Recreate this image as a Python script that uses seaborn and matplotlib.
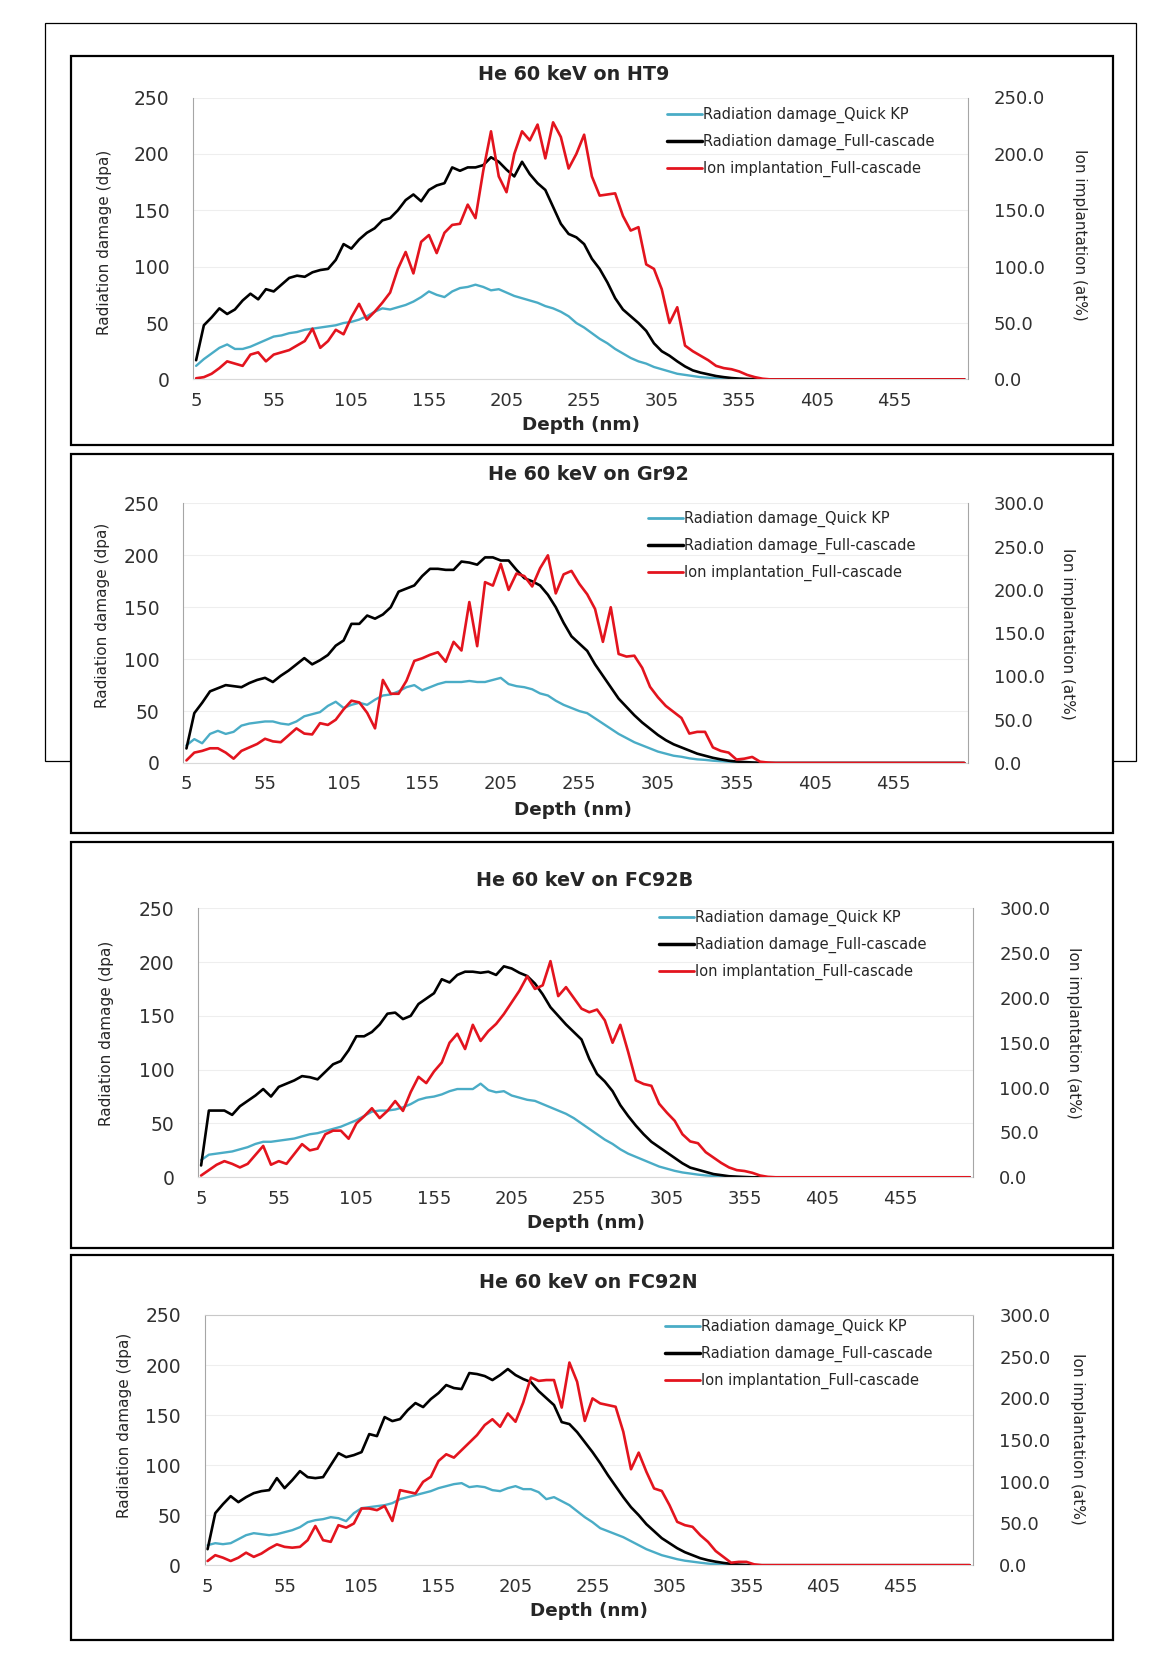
import numpy as np
import pandas as pd
import matplotlib
matplotlib.use("Agg")
import matplotlib.pyplot as plt
import seaborn as sns
from matplotlib.patches import Rectangle
from matplotlib.lines import Line2D
from matplotlib.ticker import FormatStrFormatter

sns.set_style("white")
plt.rcParams['font.family'] = ['DejaVu Sans']

# depth categories (nm), 5 .. 500 in 5 nm steps
depth = list(range(5, 505, 5))

titles = ["He 60 keV on HT9", "He 60 keV on Gr92", "He 60 keV on FC92B", "He 60 keV on FC92N"]
labels = ["Radiation damage_Quick KP", "Radiation damage_Full-cascade", "Ion implantation_Full-cascade"]
right_max = [250, 300, 300, 300]

# ---- HT9 ----
ht9_quick = [12, 18, 23, 28, 31, 27, 27, 29, 32, 35,
             38, 39, 41, 42, 44, 45, 46, 47, 48, 50,
             51, 53, 56, 60, 63, 62, 64, 66, 69, 73,
             78, 75, 73, 78, 81, 82, 84, 82, 79, 80,
             77, 74, 72, 70, 68, 65, 63, 60, 56, 50,
             46, 41, 36, 32, 27, 23, 19, 16, 14, 11,
             9, 7, 5, 4, 3, 2, 1.5, 1, 0.7, 0.5,
             0.3, 0.2, 0.1, 0, 0, 0, 0, 0, 0, 0,
             0, 0, 0, 0, 0, 0, 0, 0, 0, 0,
             0, 0, 0, 0, 0, 0, 0, 0, 0, 0]
ht9_full = [17, 48, 55, 63, 58, 62, 70, 76, 71, 80,
            78, 84, 90, 92, 91, 95, 97, 98, 106, 120,
            116, 124, 130, 134, 141, 143, 150, 159, 164, 158,
            168, 172, 174, 188, 185, 188, 188, 190, 197, 193,
            186, 180, 193, 182, 174, 168, 153, 138, 129, 126,
            120, 107, 98, 86, 72, 62, 56, 50, 43, 32,
            25, 21, 16, 11.5, 8, 6, 4.5, 3, 2, 1.2,
            0.7, 0.4, 0.2, 0, 0, 0, 0, 0, 0, 0,
            0, 0, 0, 0, 0, 0, 0, 0, 0, 0,
            0, 0, 0, 0, 0, 0, 0, 0, 0, 0]
ht9_ion = [1, 2, 5, 10, 16, 14, 12, 22, 24, 16,
           22, 24, 26, 30, 34, 45, 28, 34, 44, 40,
           55, 67, 53, 60, 68, 77, 98, 113, 94, 122,
           128, 112, 130, 137, 138, 155, 143, 185, 220, 180,
           166, 200, 220, 212, 226, 196, 228, 215, 187, 200,
           217, 180, 163, 164, 165, 145, 132, 135, 102, 98,
           80, 50, 64, 30, 25, 21, 17, 12, 10, 9,
           7, 4, 2, 0.6, 0, 0, 0, 0, 0, 0,
           0, 0, 0, 0, 0, 0, 0, 0, 0, 0,
           0, 0, 0, 0, 0, 0, 0, 0, 0, 0]

# ---- Gr92 ----
gr92_quick = [17, 23, 19, 28, 31, 28, 30, 36, 38, 39,
              40, 40, 38, 37, 40, 45, 47, 49, 55, 59,
              53, 56, 58, 56, 61, 65, 66, 69, 73, 75,
              70, 73, 76, 78, 78, 78, 79, 78, 78, 80,
              82, 76, 74, 73, 71, 67, 65, 60, 56, 53,
              50, 48, 43, 38, 33, 28, 24, 20, 17, 14,
              11, 9, 7, 6, 4.5, 3.5, 3, 2.2, 1.7, 1.3,
              0.9, 0.6, 0.3, 0, 0, 0, 0, 0, 0, 0,
              0, 0, 0, 0, 0, 0, 0, 0, 0, 0,
              0, 0, 0, 0, 0, 0, 0, 0, 0, 0]
gr92_full = [14, 48, 58, 69, 72, 75, 74, 73, 77, 80,
             82, 78, 84, 89, 95, 101, 95, 99, 104, 113,
             118, 134, 134, 142, 139, 143, 150, 165, 168, 171,
             180, 187, 187, 186, 186, 194, 193, 191, 198, 198,
             195, 195, 186, 178, 175, 171, 162, 150, 135, 122,
             115, 108, 95, 84, 73, 62, 54, 46, 39, 33,
             27, 22, 18, 15, 12, 9, 7, 5, 3.5, 2.2,
             1.4, 0.9, 0.5, 0.2, 0, 0, 0, 0, 0, 0,
             0, 0, 0, 0, 0, 0, 0, 0, 0, 0,
             0, 0, 0, 0, 0, 0, 0, 0, 0, 0]
gr92_ion = [3, 12, 14, 17, 17, 12, 5, 14, 18, 22,
            28, 25, 24, 32, 40, 34, 33, 46, 44, 50,
            62, 72, 70, 58, 40, 96, 80, 80, 95, 118,
            121, 125, 128, 117, 140, 130, 186, 135, 209, 205,
            230, 200, 219, 216, 204, 225, 240, 196, 218, 222,
            207, 195, 178, 140, 180, 126, 123, 124, 110, 88,
            76, 66, 59, 52, 34, 36, 36, 18, 14, 12,
            4, 5, 7, 1.5, 0.5, 0, 0, 0, 0, 0,
            0, 0, 0, 0, 0, 0, 0, 0, 0, 0,
            0, 0, 0, 0, 0, 0, 0, 0, 0, 0]

# ---- FC92B ----
fc92b_quick = [16, 21, 22, 23, 24, 26, 28, 31, 33, 33,
               34, 35, 36, 38, 40, 41, 43, 45, 47, 50,
               53, 57, 61, 62, 62, 63, 65, 68, 72, 74,
               75, 77, 80, 82, 82, 82, 87, 81, 79, 80,
               76, 74, 72, 71, 68, 65, 62, 59, 55, 50,
               45, 40, 35, 31, 26, 22, 19, 16, 13, 10,
               8, 6, 4.5, 3.5, 2.5, 1.7, 1.2, 0.8, 0.5, 0.3,
               0, 0, 0, 0, 0, 0, 0, 0, 0, 0,
               0, 0, 0, 0, 0, 0, 0, 0, 0, 0,
               0, 0, 0, 0, 0, 0, 0, 0, 0, 0]
fc92b_full = [11, 62, 62, 62, 58, 66, 71, 76, 82, 75,
              84, 87, 90, 94, 93, 91, 98, 105, 108, 118,
              131, 131, 135, 142, 152, 153, 147, 150, 161, 166,
              171, 184, 181, 188, 191, 191, 190, 191, 188, 196,
              194, 190, 187, 180, 170, 158, 150, 142, 135, 128,
              110, 96, 89, 80, 67, 57, 48, 40, 33, 28,
              23, 18, 13, 9, 7, 5, 3, 2, 1, 0.6,
              0.3, 0, 0, 0, 0, 0, 0, 0, 0, 0,
              0, 0, 0, 0, 0, 0, 0, 0, 0, 0,
              0, 0, 0, 0, 0, 0, 0, 0, 0, 0]
fc92b_ion = [2, 8, 14, 18, 15, 11, 15, 25, 35, 14,
             18, 15, 26, 37, 30, 32, 48, 52, 52, 43,
             60, 68, 77, 66, 74, 85, 74, 95, 112, 105,
             118, 128, 150, 160, 143, 170, 152, 163, 171, 182,
             195, 208, 224, 210, 214, 241, 202, 212, 200, 188,
             184, 187, 175, 150, 170, 140, 108, 104, 102, 82,
             72, 63, 48, 40, 38, 28, 22, 16, 11, 8,
             7, 5, 2, 0.5, 0, 0, 0, 0, 0, 0,
             0, 0, 0, 0, 0, 0, 0, 0, 0, 0,
             0, 0, 0, 0, 0, 0, 0, 0, 0, 0]

# ---- FC92N ----
fc92n_quick = [20, 22, 21, 22, 26, 30, 32, 31, 30, 31,
               33, 35, 38, 43, 45, 46, 48, 47, 44, 52,
               57, 58, 59, 60, 62, 66, 68, 70, 72, 74,
               77, 79, 81, 82, 78, 79, 78, 75, 74, 77,
               79, 76, 76, 73, 66, 68, 64, 60, 54, 48,
               43, 37, 34, 31, 28, 24, 20, 16, 13, 10,
               8, 6, 4.5, 3.5, 2.5, 1.6, 1, 0.6, 0.3, 0,
               0, 0, 0, 0, 0, 0, 0, 0, 0, 0,
               0, 0, 0, 0, 0, 0, 0, 0, 0, 0,
               0, 0, 0, 0, 0, 0, 0, 0, 0, 0]
fc92n_full = [16, 52, 61, 69, 63, 68, 72, 74, 75, 87,
              77, 85, 94, 88, 87, 88, 100, 112, 108, 110,
              113, 131, 129, 148, 144, 146, 155, 162, 158, 166,
              172, 180, 177, 176, 192, 191, 189, 185, 190, 196,
              190, 186, 183, 174, 167, 160, 143, 141, 133, 123,
              113, 102, 90, 79, 68, 58, 50, 41, 34, 27,
              22, 17, 13, 10, 7, 5, 3.5, 2.3, 1.3, 0.6,
              0.2, 0, 0, 0, 0, 0, 0, 0, 0, 0,
              0, 0, 0, 0, 0, 0, 0, 0, 0, 0,
              0, 0, 0, 0, 0, 0, 0, 0, 0, 0]
fc92n_ion = [5, 12, 9, 5, 9, 15, 10, 14, 20, 25,
             22, 21, 22, 30, 47, 30, 28, 48, 45, 50,
             68, 68, 66, 71, 53, 90, 88, 86, 100, 106,
             125, 133, 129, 138, 147, 156, 168, 175, 166, 182,
             172, 195, 225, 221, 222, 222, 189, 243, 220, 173,
             200, 194, 192, 190, 160, 115, 135, 112, 92, 89,
             72, 52, 48, 46, 36, 28, 17, 10, 3, 4,
             4, 1, 0, 0, 0, 0, 0, 0, 0, 0,
             0, 0, 0, 0, 0, 0, 0, 0, 0, 0,
             0, 0, 0, 0, 0, 0, 0, 0, 0, 0]

quick = [ht9_quick, gr92_quick, fc92b_quick, fc92n_quick]
full = [ht9_full, gr92_full, fc92b_full, fc92n_full]
ion = [ht9_ion, gr92_ion, fc92b_ion, fc92n_ion]

# layout in pixels of the 1171x1661 page
W, H = 1171, 1661
boxes = [(71, 56, 1113, 445), (71, 454, 1113, 833), (71, 842, 1113, 1248), (71, 1255, 1113, 1640)]
axes_px = [(193, 97.5, 967.5, 379.4), (183.3, 503.4, 967.5, 763), (198, 908.2, 972.8, 1177.3),
           (204.5, 1315, 972.8, 1565.2)]
title_px = [(574, 74), (588, 474), (585, 880), (588, 1282)]
xlab_px = [(581, 425), (573, 810), (586, 1223), (589, 1611)]
ylab_px = [(104, 242), (103, 615), (106, 1033), (124, 1425)]
rlab_px = [(1079, 235), (1068, 634), (1073, 1033), (1077, 1439)]
leg_px = [(667, 116), (648, 520), (659, 919), (665, 1328)]

CYAN = "#4aacc6"
RED = "#e3141e"


def fx(x):
    return x / W


def fy(y):
    return 1 - y / H


fig = plt.figure(figsize=(W / 100, H / 100), dpi=100)

# faint outer frame of the page behind the panels
fig.patches.append(Rectangle((fx(44.5), fy(761)), fx(1136) - fx(44.5), fy(23) - fy(761),
                             transform=fig.transFigure, fill=False, ec="black", lw=0.9, zorder=-3))

for i in range(4):
    x0, y0, x1, y1 = boxes[i]
    fig.patches.append(Rectangle((fx(x0), fy(y1)), fx(x1) - fx(x0), fy(y0) - fy(y1),
                                 transform=fig.transFigure, fc="white", ec="black", lw=1.6, zorder=-2))
    l, t, r, b = axes_px[i]
    ax = fig.add_axes([fx(l), fy(b), (r - l) / W, (b - t) / H])
    ax2 = ax.twinx()

    df = pd.DataFrame({"depth": depth, "quick": quick[i], "full": full[i], "ion": ion[i]})
    sns.lineplot(data=df, x="depth", y="quick", ax=ax, color=CYAN, lw=1.7)
    sns.lineplot(data=df, x="depth", y="full", ax=ax, color="black", lw=1.9)
    sns.lineplot(data=df, x="depth", y="ion", ax=ax2, color=RED, lw=1.9)

    ax.set_xlim(3, 502)
    ax.set_ylim(0, 250)
    ax2.set_ylim(0, right_max[i])
    ax.set_xticks(range(5, 460, 50))
    ax.set_yticks(range(0, 251, 50))
    ax2.set_yticks(range(0, right_max[i] + 1, 50))
    ax2.yaxis.set_major_formatter(FormatStrFormatter('%.1f'))
    ax.set_xlabel("")
    ax.set_ylabel("")
    ax2.set_ylabel("")

    ax.yaxis.grid(True, color="#eeeeee", lw=0.8)
    ax.xaxis.grid(False)
    for sp in ["top", "right"]:
        ax.spines[sp].set_visible(False)
    ax.spines["left"].set_color("#a6a6a6")
    ax.spines["bottom"].set_color("#d9d9d9")
    for sp in ["top", "left", "bottom"]:
        ax2.spines[sp].set_visible(False)
    ax2.spines["right"].set_color("#a6a6a6")
    if i == 3:
        ax2.spines["top"].set_visible(True)
        ax2.spines["top"].set_color("#c8c8c8")

    ax.tick_params(axis="y", length=0, labelsize=13.5, pad=17, labelcolor="#303030")
    ax.tick_params(axis="x", length=0, labelsize=13, pad=9, labelcolor="#303030")
    ax2.tick_params(axis="y", length=0, labelsize=13, pad=19, labelcolor="#303030")

    fig.text(fx(title_px[i][0]), fy(title_px[i][1]), titles[i], ha="center", va="center",
             fontsize=13.8, fontweight="bold")
    fig.text(fx(xlab_px[i][0]), fy(xlab_px[i][1]), "Depth (nm)", ha="center", va="center",
             fontsize=13.2, fontweight="bold")
    fig.text(fx(ylab_px[i][0]), fy(ylab_px[i][1]), "Radiation damage (dpa)", ha="center", va="center",
             rotation=90, fontsize=11)
    fig.text(fx(rlab_px[i][0]), fy(rlab_px[i][1]), "Ion implantation (at%)", ha="center", va="center",
             rotation=270, fontsize=11)

    handles = [Line2D([], [], color=CYAN, lw=2), Line2D([], [], color="black", lw=2.5),
               Line2D([], [], color=RED, lw=2)]
    for a in (ax, ax2):
        if a.get_legend() is not None:
            a.get_legend().remove()
    lx, ly = leg_px[i]
    ax2.legend(handles, labels, loc="upper left", bbox_to_anchor=(fx(lx), fy(ly - 9)),
               bbox_transform=fig.transFigure, frameon=False, fontsize=10.5, handlelength=2.4,
               handletextpad=0.1, labelspacing=0.75, borderpad=0, borderaxespad=0)

fig.savefig("out.png", dpi=100)
